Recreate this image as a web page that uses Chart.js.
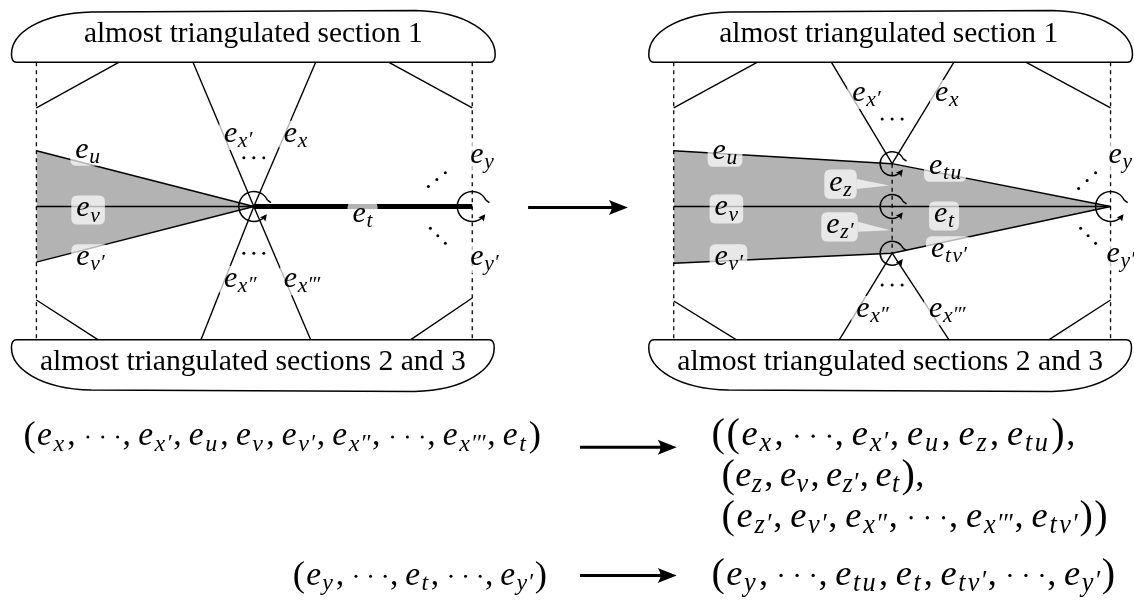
<!DOCTYPE html>
<html><head><meta charset="utf-8">
<script src="https://cdn.jsdelivr.net/npm/chart.js@4"></script>
<style>html,body{margin:0;padding:0;background:#fff;overflow:hidden}canvas{display:block}</style>
</head><body>
<canvas id="c" width="1134" height="601"></canvas>
<script>
// ================= DATA =================
// shaded regions (upper edge / lower edge, filled between)
const leftShadeTop = [[35,150],[253,206]];
const leftShadeBottom = [[35,262],[253,206]];
const rightShadeTop = [[674,150],[893,163],[1112,206]];
const rightShadeBottom = [[674,263],[893,253],[1112,206]];
// edges [x1,y1,x2,y2]
const solidEdges = [
  [118,61,35,107],[388,61,472,107],[192,61,253,206],[315,61,253,206],
  [35,300,97,340],[200,340,253,206],[310,340,253,206],[410,340,472,298],
  [35,206,253,206],
  [758,61,674,107],[1027,61,1112,107],[832,61,893,163],[955,61,893,163],
  [674,301,737,340],[840,340,893,253],[950,340,893,253],[1050,340,1112,300],
  [674,206,1112,206]
];
const dashedEdges = [[35,61,35,340],[472,61,472,340],[674,61,674,340],[1112,61,1112,340],[893,163,893,253]];
const thickEdges = [[253,206,472,206]];
const arrows = [[528,207,628,207],[580,448,677,448],[580,577,677,577]];
// dots (ellipses)
const dotPoints = [
  [243,157],[253,157],[263,157],[243,253],[253,253],[263,253],
  [428,186],[436.5,179],[445,172],[430,228],[437.5,235.5],[445,243],
  [883,118],[893,118],[903,118],[883,285],[893,285],[903,285],
  [1080,188],[1088.5,180],[1097,172],[1082,228],[1089.5,235.5],[1097,243]
];
// rotation nodes [x,y,r]
const nodes = [[253,206,15],[472,206,15],[893,163,12],[893,206,12],[893,253,12],[1112,206,15]];
// regions (blobs) [x0,x1,flatY,archY,label,textBaseline]
const blobs = [
  [10,495,61,9,'almost triangulated section 1',41],
  [10,494,340,392,'almost triangulated sections 2 and 3',370],
  [649,1134,61,9,'almost triangulated section 1',41],
  [649,1133,340,392,'almost triangulated sections 2 and 3',370]
];
const blobTextWidth = {'almost triangulated section 1':339,'almost triangulated sections 2 and 3':426};
// edge labels [markup, left x, baseline]
const edgeLabels = [
  ["e_{x'}",223,141],["e_{x}",283,141],["e_{u}",74,157],["e_{y}",470,162],
  ["e_{v}",75,216],["e_{t}",352,222],["e_{v'}",75,265],["e_{x''}",223,287],
  ["e_{x'''}",283,287],["e_{y'}",470,265],
  ["e_{x'}",853,100],["e_{x}",936,100],["e_{u}",713,158],["e_{tu}",930,173],
  ["e_{z}",830,190],["e_{y}",1110,162],["e_{v}",715,215],["e_{t}",935,222],
  ["e_{z'}",827,233],["e_{tv'}",932,257],["e_{v'}",715,265],["e_{x''}",857,317],
  ["e_{x'''}",930,317],["e_{y'}",1108,262]
];
// callout pointers [labelIndex, tipX, tipY]
const callouts = [[14,890,185],[18,891,230]];
// rotation systems [markup, left x, baseline, right x, column]
const formulas = [
  ["(e_{x},⋯,e_{x'},e_{u},e_{v},e_{v'},e_{x''},⋯,e_{x'''},e_{t})",22,446,545,0],
  ["((e_{x},⋯,e_{x'},e_{u},e_{z},e_{tu}),",712,446,1095,1],
  ["(e_{z},e_{v},e_{z'},e_{t}),",722,487,932,1],
  ["(e_{z'},e_{v'},e_{x''},⋯,e_{x'''},e_{tv'}))",722,528,1125,1],
  ["(e_{y},⋯,e_{t},⋯,e_{y'})",292,586,548,0],
  ["(e_{y},⋯,e_{tu},e_{t},e_{tv'},⋯,e_{y'})",712,586,1118,1]
];
const labelSize = 30;
const formulaBaseSize = 32;

// ================= HELPERS =================
const P = a => a.map(p => ({x:p[0], y:p[1]}));
function segData(list){
  const out = [];
  list.forEach(s => { out.push({x:s[0],y:s[1]},{x:s[2],y:s[3]},{x:s[2],y:null}); });
  return out;
}
function lineDs(data, extra){
  return Object.assign({data, showLine:true, pointRadius:0, pointHoverRadius:0,
    borderColor:'#000', borderWidth:1.4, fill:false, tension:0, spanGaps:false}, extra||{});
}
const SERIF = '"Liberation Serif", "DejaVu Serif", serif';
function layoutMath(ctx, str, size){
  const items = []; let x = 0; let i = 0;
  const mainF = `italic ${size}px ${SERIF}`;
  const upF = `${size}px ${SERIF}`;
  const parF = `${size*1.1}px ${SERIF}`;
  const subS = size*0.72;
  const subF = `italic ${subS}px ${SERIF}`;
  const primeF = `${subS}px ${SERIF}`;
  const subShift = size*0.17;
  while (i < str.length){
    const ch = str[i];
    if (ch === 'e'){
      ctx.font = mainF; const w = ctx.measureText('e').width;
      items.push({t:'e', f:mainF, x, dy:0}); x += w + size*0.02;
      if (str[i+1] === '_'){
        const j = str.indexOf('}', i); const sub = str.slice(i+3, j); i = j+1;
        for (const c of sub){
          if (c === "'"){ ctx.font = primeF; const pw = ctx.measureText('′').width;
            items.push({t:'′', f:primeF, x, dy:subShift - subS*0.05}); x += pw*0.85; }
          else { ctx.font = subF; const w2 = ctx.measureText(c).width;
            items.push({t:c, f:subF, x, dy:subShift}); x += w2 + size*0.05; }
        }
        x += size*0.02;
      } else i++;
      continue;
    }
    if (ch === ','){ ctx.font = upF; const w = ctx.measureText(',').width;
      items.push({t:',', f:upF, x, dy:0}); x += w + size*0.19; i++; continue; }
    if (ch === '⋯'){ const gap = size*0.42;
      for (let k=0;k<3;k++) items.push({dot:true, x:x+size*0.14+k*gap, dy:-size*0.25, r:size*0.045});
      x += size*0.28 + gap*2; i++; continue; }
    if (ch === '(' || ch === ')'){ ctx.font = parF; const w = ctx.measureText(ch).width;
      items.push({t:ch, f:parF, x, dy:size*0.03}); x += w + size*0.02; i++; continue; }
    ctx.font = upF; const w = ctx.measureText(ch).width;
    items.push({t:ch, f:upF, x, dy:0}); x += w; i++;
  }
  return {items, width:x};
}
function drawMath(ctx, lay, x, y){
  ctx.fillStyle = '#000'; ctx.textBaseline = 'alphabetic'; ctx.textAlign = 'left';
  lay.items.forEach(it => {
    if (it.dot){ ctx.beginPath(); ctx.arc(x+it.x, y+it.dy, it.r, 0, Math.PI*2); ctx.fill(); }
    else { ctx.font = it.f; ctx.fillText(it.t, x+it.x, y+it.dy); }
  });
}
function roundRect(ctx, x, y, w, h, r){
  ctx.beginPath();
  ctx.moveTo(x+r,y); ctx.lineTo(x+w-r,y); ctx.quadraticCurveTo(x+w,y,x+w,y+r);
  ctx.lineTo(x+w,y+h-r); ctx.quadraticCurveTo(x+w,y+h,x+w-r,y+h);
  ctx.lineTo(x+r,y+h); ctx.quadraticCurveTo(x,y+h,x,y+h-r);
  ctx.lineTo(x,y+r); ctx.quadraticCurveTo(x,y,x+r,y); ctx.closePath();
}
function arrowHead(ctx, tx, ty, dx, dy, len, half){
  const n = Math.hypot(dx,dy); dx/=n; dy/=n;
  const bx = tx - dx*len, by = ty - dy*len;
  ctx.beginPath();
  ctx.moveTo(tx,ty);
  ctx.lineTo(bx - dy*half, by + dx*half);
  ctx.quadraticCurveTo(tx - dx*len*0.7, ty - dy*len*0.7, bx + dy*half, by - dx*half);
  ctx.closePath(); ctx.fill();
}

// ================= PLUGIN =================
const diagramPlugin = {
  id:'diagram',
  afterDatasetsDraw(chart){
    const ctx = chart.ctx;
    const xs = chart.scales.x, ys = chart.scales.y;
    const X = v => xs.getPixelForValue(v), Y = v => ys.getPixelForValue(v);
    ctx.save();
    ctx.fillStyle = '#000';
    arrows.forEach(a => arrowHead(ctx, X(a[2]), Y(a[3]), X(a[2])-X(a[0]), Y(a[3])-Y(a[1]), 19, 7.5));
    blobs.forEach(b => {
      const [x0,x1,F,A,label,base] = b; const d = Math.sign(A-F); const h = Math.abs(A-F);
      ctx.beginPath();
      ctx.moveTo(X(x0+5), Y(F));
      ctx.quadraticCurveTo(X(x0), Y(F), X(x0), Y(F+d*8));
      ctx.bezierCurveTo(X(x0), Y(F+d*h*0.55), X(x0+28), Y(A-d*3), X(x0+80), Y(A-d*1.5));
      ctx.lineTo(X(x1-80), Y(A));
      ctx.bezierCurveTo(X(x1-28), Y(A-d*1), X(x1), Y(F+d*h*0.55), X(x1), Y(F+d*8));
      ctx.quadraticCurveTo(X(x1), Y(F), X(x1-5), Y(F));
      ctx.closePath();
      ctx.fillStyle = '#fff'; ctx.fill();
      ctx.lineWidth = 1.5; ctx.strokeStyle = '#000'; ctx.stroke();
      ctx.font = `24px ${SERIF}`;
      const w = ctx.measureText(label).width;
      const fs = 24 * blobTextWidth[label] / w;
      ctx.font = `${fs}px ${SERIF}`; ctx.fillStyle = '#000';
      ctx.textAlign = 'center'; ctx.textBaseline = 'alphabetic';
      ctx.fillText(label, X((x0+x1)/2 - (x1>1133?2:0)), Y(base));
    });
    const size = labelSize;
    const lays = edgeLabels.map(l => layoutMath(ctx, l[0], size));
    ctx.fillStyle = 'rgba(255,255,255,0.7)';
    edgeLabels.forEach((l, i) => {
      const x = X(l[1]), y = Y(l[2]), w = lays[i].width;
      roundRect(ctx, x-5, y-size*0.7, w+8, size*0.97, 6); ctx.fill();
    });
    callouts.forEach(c => {
      const l = edgeLabels[c[0]]; const x = X(l[1]) + lays[c[0]].width + 3; const cy = Y(l[2]) - size*0.22;
      ctx.beginPath(); ctx.moveTo(x, cy-5); ctx.lineTo(X(c[1]), Y(c[2])); ctx.lineTo(x, cy+5); ctx.closePath(); ctx.fill();
    });
    edgeLabels.forEach((l, i) => drawMath(ctx, lays[i], X(l[1]), Y(l[2])));
    ctx.strokeStyle = '#000'; ctx.fillStyle = '#000'; ctx.lineWidth = 1.5;
    nodes.forEach(n => {
      const cx = X(n[0]), cy = Y(n[1]), r = n[2];
      const a0 = -25*Math.PI/180, a1 = 38*Math.PI/180;
      ctx.beginPath(); ctx.arc(cx, cy, r, a0, a1, true); ctx.stroke();
      const sx = cx + r*Math.cos(a0), sy = cy + r*Math.sin(a0);
      ctx.beginPath(); ctx.moveTo(sx, sy); ctx.lineTo(sx+3.5, sy+2.5); ctx.stroke();
      const ex = cx + r*Math.cos(a1), ey = cy + r*Math.sin(a1);
      arrowHead(ctx, ex + Math.sin(a1)*2, ey - Math.cos(a1)*2, Math.sin(a1), -Math.cos(a1), 7, 3.5);
    });
    // formulas: one glyph size per column, widths spread gently toward the reference
    const colSizes = [0,1].map(col => {
      const fs = formulas.filter(f => f[4] === col).map(f =>
        formulaBaseSize * (X(f[3]) - X(f[1])) / layoutMath(ctx, f[0], formulaBaseSize).width);
      return fs.reduce((a,b) => a+b, 0) / fs.length * 0.95;
    });
    formulas.forEach(f => {
      const lay = layoutMath(ctx, f[0], colSizes[f[4]]);
      const s = Math.min(1.06, Math.max(0.97, (X(f[3]) - X(f[1])) / lay.width));
      lay.items.forEach(it => { it.x *= s; });
      drawMath(ctx, lay, X(f[1]), Y(f[2]));
    });
    ctx.restore();
  }
};

// ================= CHART =================
const chart = new Chart(document.getElementById('c'), {
  type:'scatter',
  data:{ datasets:[
    lineDs(P(leftShadeTop), {fill:'+1', backgroundColor:'#b3b3b3'}),
    lineDs(P(leftShadeBottom)),
    lineDs(P(rightShadeTop), {fill:'+1', backgroundColor:'#b3b3b3'}),
    lineDs(P(rightShadeBottom)),
    lineDs(segData(solidEdges)),
    lineDs(segData(dashedEdges), {borderDash:[4,4], borderWidth:1.3}),
    lineDs(segData(thickEdges), {borderWidth:5}),
    lineDs(segData(arrows.map(a => [a[0],a[1],a[2]-10,a[3]])), {borderWidth:3}),
    {data:P(dotPoints), showLine:false, pointRadius:1.5, pointHoverRadius:1.5, pointBackgroundColor:'#000', pointBorderWidth:0, borderColor:'#000'}
  ]},
  options:{
    responsive:false, animation:false, devicePixelRatio:1, events:[],
    layout:{padding:0},
    plugins:{ legend:{display:false}, tooltip:{enabled:false}, filler:{drawTime:'beforeDatasetsDraw'} },
    scales:{
      x:{type:'linear', min:0, max:1134, display:false},
      y:{type:'linear', min:0, max:601, reverse:true, display:false}
    }
  },
  plugins:[diagramPlugin]
});
</script>
</body></html>
